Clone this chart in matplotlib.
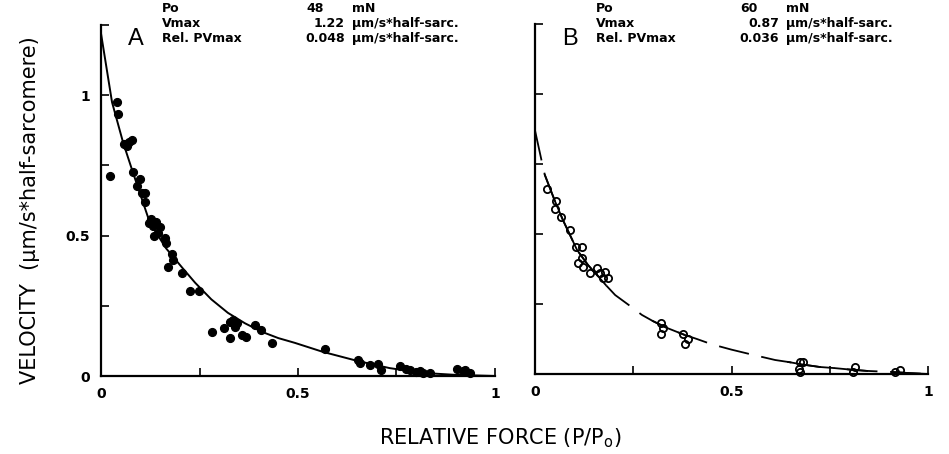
import numpy as np
import matplotlib.pyplot as plt

plt.rcParams['font.family'] = ['DejaVu Sans']

# panel A: measured points (filled) and fitted curve
a_force = [0.023, 0.041, 0.043, 0.058, 0.066, 0.072, 0.078, 0.081, 0.091, 0.099,
           0.104, 0.112, 0.112, 0.122, 0.128, 0.133, 0.140, 0.145, 0.150, 0.135,
           0.162, 0.165, 0.170, 0.180, 0.183, 0.206, 0.226, 0.249, 0.282, 0.312,
           0.327, 0.335, 0.340, 0.327, 0.345, 0.358, 0.368, 0.391, 0.406, 0.434,
           0.569, 0.652, 0.657, 0.683, 0.703, 0.710, 0.759, 0.775, 0.784, 0.800,
           0.810, 0.817, 0.835, 0.903, 0.919, 0.925, 0.937]
a_vel = [0.714, 0.975, 0.932, 0.826, 0.820, 0.833, 0.840, 0.725, 0.675, 0.700,
         0.650, 0.653, 0.618, 0.545, 0.560, 0.535, 0.550, 0.510, 0.530, 0.500,
         0.493, 0.475, 0.389, 0.435, 0.414, 0.367, 0.304, 0.304, 0.157, 0.171,
         0.193, 0.200, 0.175, 0.136, 0.190, 0.146, 0.140, 0.182, 0.164, 0.118,
         0.096, 0.057, 0.046, 0.039, 0.043, 0.021, 0.036, 0.025, 0.021, 0.014,
         0.018, 0.011, 0.011, 0.025, 0.018, 0.022, 0.011]
a_fit_force = [0, 0.028, 0.056, 0.081, 0.124, 0.165, 0.206, 0.239, 0.28, 0.322,
               0.365, 0.409, 0.45, 0.492, 0.563, 0.65, 0.733, 0.817, 0.90, 1.0]
a_fit_vel = [1.22, 0.975, 0.832, 0.725, 0.546, 0.455, 0.386, 0.332, 0.273, 0.225,
             0.188, 0.157, 0.135, 0.118, 0.086, 0.054, 0.028, 0.011, 0.004, 0.0]

# panel B: measured points (open) and fitted curve
b_force = [0.031, 0.053, 0.051, 0.066, 0.089, 0.104, 0.120, 0.120, 0.109, 0.122,
           0.140, 0.158, 0.165, 0.178, 0.186, 0.173, 0.321, 0.326, 0.321, 0.377,
           0.389, 0.382, 0.674, 0.682, 0.672, 0.674, 0.814, 0.809, 0.916, 0.929]
b_vel = [0.661, 0.618, 0.589, 0.561, 0.514, 0.454, 0.454, 0.414, 0.396, 0.382,
         0.361, 0.379, 0.361, 0.364, 0.343, 0.343, 0.182, 0.164, 0.143, 0.143,
         0.125, 0.107, 0.043, 0.043, 0.018, 0.007, 0.025, 0.007, 0.007, 0.014]
b_fit_force = [0, 0.018, 0.025, 0.05, 0.071, 0.107, 0.135, 0.16, 0.18, 0.204,
               0.24, 0.272, 0.30, 0.335, 0.38, 0.412, 0.45, 0.50, 0.55, 0.611,
               0.644, 0.685, 0.725, 0.763, 0.80, 0.845, 0.911, 0.955, 1.0]
b_fit_vel = [0.87, 0.754, 0.711, 0.62, 0.55, 0.443, 0.389, 0.35, 0.318, 0.282,
             0.245, 0.211, 0.189, 0.165, 0.140, 0.125, 0.106, 0.087, 0.070, 0.050,
             0.043, 0.033, 0.025, 0.021, 0.016, 0.011, 0.007, 0.003, 0.0]
b_solid = [(0.025, 0.18), (0.30, 0.38), (0.644, 0.725), (0.763, 0.845), (0.911, 1.0)]

a_info = [("Po", "48", "mN"), ("Vmax", "1.22", "µm/s*half-sarc."),
          ("Rel. PVmax", "0.048", "µm/s*half-sarc.")]
b_info = [("Po", "60", "mN"), ("Vmax", "0.87", "µm/s*half-sarc."),
          ("Rel. PVmax", "0.036", "µm/s*half-sarc.")]

ticks_x = [0, 0.25, 0.5, 0.75, 1]
labels_x = ["0", "", "0.5", "", "1"]
ticks_y = [0, 0.25, 0.5, 0.75, 1, 1.25]
labels_y = ["0", "", "0.5", "", "1", ""]

W, H = 949, 454
fig = plt.figure(figsize=(W / 100, H / 100), dpi=100)
axA = fig.add_axes([101 / W, 78 / H, 394 / W, 351 / H])
axB = fig.add_axes([535 / W, 80 / H, 393 / W, 350 / H])

for ax in (axA, axB):
    ax.set_xlim(0, 1)
    ax.set_ylim(0, 1.25)
    ax.spines['top'].set_visible(False)
    ax.spines['right'].set_visible(False)
    ax.spines['left'].set_linewidth(1.6)
    ax.spines['bottom'].set_linewidth(1.6)
    ax.set_xticks(ticks_x)
    ax.set_xticklabels(labels_x, fontweight='bold', fontsize=10)
    ax.set_yticks(ticks_y)
    ax.tick_params(direction='in', length=5.5, width=1.2, pad=8)

axA.set_yticklabels(labels_y, fontweight='bold', fontsize=10)
axB.set_yticklabels([])

axA.plot(a_fit_force, a_fit_vel, color='k', lw=1.4)
axA.plot(a_force, a_vel, 'o', color='k', ms=5.6, clip_on=False)

bx = np.array(b_fit_force)
by = np.array(b_fit_vel)
axB.plot(bx, by, color='k', lw=1.3, dashes=(17, 7))
for lo, hi in b_solid:
    m = (bx >= lo - 1e-9) & (bx <= hi + 1e-9)
    axB.plot(bx[m], by[m], color='k', lw=1.3)
axB.plot(b_force, b_vel, 'o', mfc='none', mec='k', ms=5.2, mew=1.3, clip_on=False)


def info_block(letter, x0, info):
    # x0 = axis left edge in pixels
    fig.text((x0 + 27) / W, 1 - 39 / H, letter, fontsize=17, family='Liberation Sans',
             ha='left', va='center')
    for (name, val, unit), yy in zip(info, [8.5, 23.5, 38.5]):
        fig.text((x0 + 61) / W, 1 - yy / H, name, fontsize=9, fontweight='bold', va='center')
        if name == "Po":
            fig.text((x0 + 205) / W, 1 - yy / H, val, fontsize=9, fontweight='bold',
                     ha='left', va='center')
        else:
            fig.text((x0 + 244) / W, 1 - yy / H, val, fontsize=9, fontweight='bold',
                     ha='right', va='center')
        fig.text((x0 + 251) / W, 1 - yy / H, unit, fontsize=9, fontweight='bold', va='center')


info_block("A", 101, a_info)
info_block("B", 535, b_info)

fig.text(30 / W, 1 - 210 / H, "VELOCITY  (µm/s*half-sarcomere)", rotation=90,
         fontsize=15, ha='center', va='center')
fig.text(500 / W, 1 - 438 / H, "RELATIVE FORCE (P/P$_\\mathregular{o}$)",
         fontsize=15, ha='center', va='center')

fig.savefig("out.png", dpi=100)
